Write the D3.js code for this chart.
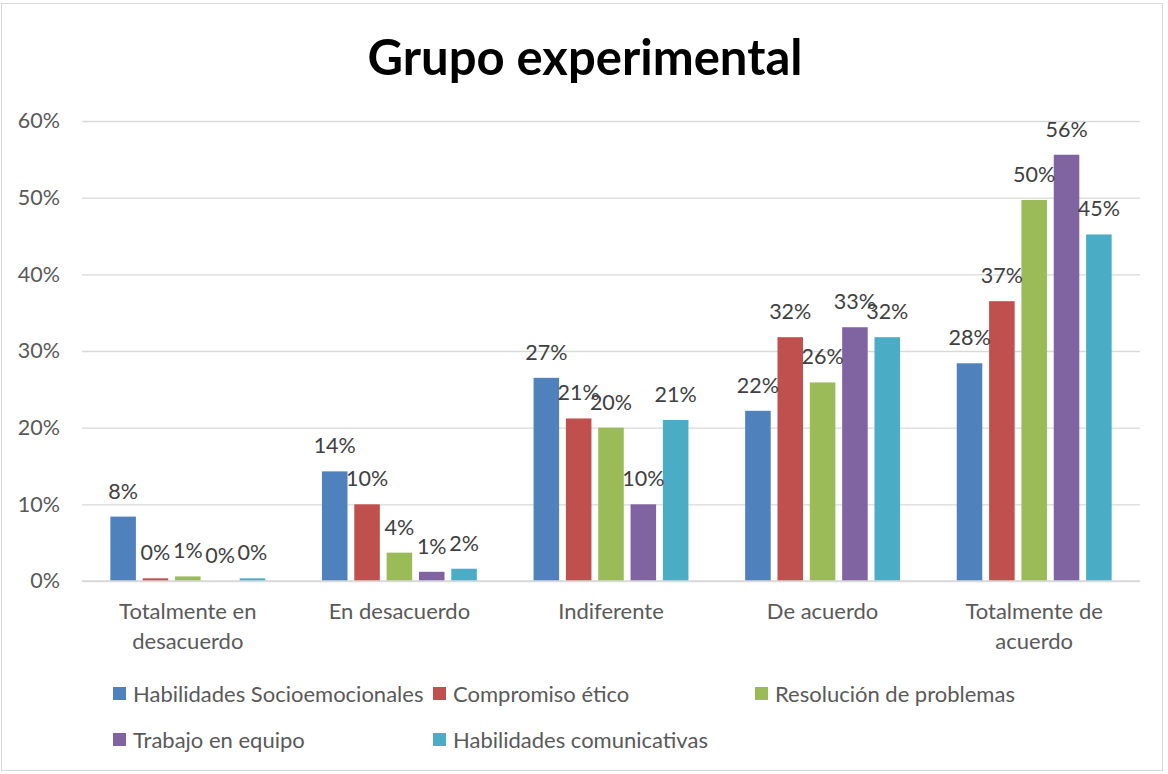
<!DOCTYPE html>
<html>
<head>
<meta charset="utf-8">
<script src="https://cdn.jsdelivr.net/npm/d3@7"></script>
<style>
  body { margin: 0; background: #fff; }
  text { font-family: Lato, "Open Sans", sans-serif; }
</style>
</head>
<body>
<div id="chart"></div>
<script>
const categories = [
  ["Totalmente en", "desacuerdo"],
  ["En desacuerdo"],
  ["Indiferente"],
  ["De acuerdo"],
  ["Totalmente de", "acuerdo"]
];
const series = [
  "Habilidades Socioemocionales",
  "Compromiso ético",
  "Resolución de problemas",
  "Trabajo en equipo",
  "Habilidades comunicativas"
];
const colors = ["#4F81BD", "#C0504D", "#9BBB59", "#8064A2", "#4BACC6"];

// values per series, in category order (fractions)
const socio = [0.084, 0.143, 0.265, 0.222, 0.284];
const etico = [0.0035, 0.100, 0.212, 0.318, 0.365];
const problemas = [0.006, 0.037, 0.200, 0.259, 0.497];
const equipo = [0.0, 0.012, 0.100, 0.331, 0.556];
const comunic = [0.0035, 0.016, 0.210, 0.318, 0.452];
const values = [socio, etico, problemas, equipo, comunic];

const yTicks = [0, 0.1, 0.2, 0.3, 0.4, 0.5, 0.6];

const width = 1168, height = 774;
const margin = { top: 121, right: 28, bottom: 193, left: 82 };

const svg = d3.select("#chart").append("svg")
  .attr("width", width)
  .attr("height", height);

// outer frame
svg.append("rect")
  .attr("x", 1.5).attr("y", 3.5)
  .attr("width", 1161).attr("height", 767)
  .attr("fill", "none")
  .attr("stroke", "#D9D9D9");

svg.append("text")
  .attr("x", 585).attr("y", 75)
  .attr("text-anchor", "middle")
  .attr("font-size", 49)
  .attr("font-weight", "bold")
  .attr("fill", "#000")
  .text("Grupo experimental");

const x0 = d3.scaleBand()
  .domain(d3.range(categories.length))
  .range([margin.left, width - margin.right])
  .paddingInner(0.268)
  .paddingOuter(0.134);

const x1 = d3.scaleBand()
  .domain(d3.range(series.length))
  .range([0, x0.bandwidth()])
  .paddingInner(0.21);

const y = d3.scaleLinear()
  .domain([0, 0.6])
  .range([height - margin.bottom, margin.top]);

// gridlines + y labels
const yAxis = svg.append("g")
  .attr("transform", `translate(${margin.left},0)`)
  .call(d3.axisLeft(y).tickValues(yTicks).tickFormat(d3.format(".0%"))
    .tickSize(-(width - margin.left - margin.right)).tickPadding(22));
yAxis.select(".domain").remove();
yAxis.selectAll(".tick line").attr("stroke", "#D9D9D9").attr("stroke-width", 1.3);
yAxis.selectAll(".tick text")
  .attr("font-size", 21.5)
  .attr("fill", "#595959")
  .attr("font-family", "Lato, sans-serif");

// bars
const groups = svg.append("g")
  .selectAll("g")
  .data(categories)
  .join("g")
  .attr("transform", (d, i) => `translate(${x0(i)},0)`);

groups.selectAll("rect")
  .data((d, i) => values.map((v, s) => ({ s, v: v[i] })))
  .join("rect")
  .attr("x", d => x1(d.s))
  .attr("y", d => y(d.v))
  .attr("width", x1.bandwidth())
  .attr("height", d => y(0) - y(d.v))
  .attr("fill", d => colors[d.s]);

groups.selectAll("text")
  .data((d, i) => values.map((v, s) => ({ s, v: v[i] })))
  .join("text")
  .attr("x", d => x1(d.s) + x1.bandwidth() / 2)
  .attr("y", d => y(d.v) - 18)
  .attr("text-anchor", "middle")
  .attr("font-size", 21.5)
  .attr("fill", "#404040")
  .text(d => d3.format(".0%")(d.v));

// x axis line
svg.append("line")
  .attr("x1", margin.left).attr("x2", width - margin.right)
  .attr("y1", y(0)).attr("y2", y(0))
  .attr("stroke", "#D9D9D9").attr("stroke-width", 1.3);

// category labels
svg.append("g")
  .selectAll("text")
  .data(categories)
  .join("text")
  .attr("x", (d, i) => x0(i) + x0.bandwidth() / 2)
  .attr("y", 619)
  .attr("text-anchor", "middle")
  .attr("font-size", 22)
  .attr("fill", "#595959")
  .each(function (d) {
    d3.select(this).selectAll("tspan")
      .data(d)
      .join("tspan")
      .attr("x", d3.select(this).attr("x"))
      .attr("dy", (t, j) => j === 0 ? 0 : 30)
      .text(t => t);
  });

// legend
const legendPos = [[113, 694], [433, 694], [755, 694], [113, 740], [433, 740]];
const legend = svg.append("g")
  .selectAll("g")
  .data(series)
  .join("g")
  .attr("transform", (d, i) => `translate(${legendPos[i][0]},${legendPos[i][1]})`);
legend.append("rect")
  .attr("x", 0).attr("y", -7)
  .attr("width", 13).attr("height", 13)
  .attr("fill", (d, i) => colors[i]);
legend.append("text")
  .attr("x", 20).attr("y", 8)
  .attr("font-size", 22)
  .attr("fill", "#595959")
  .text(d => d);
</script>
</body>
</html>
